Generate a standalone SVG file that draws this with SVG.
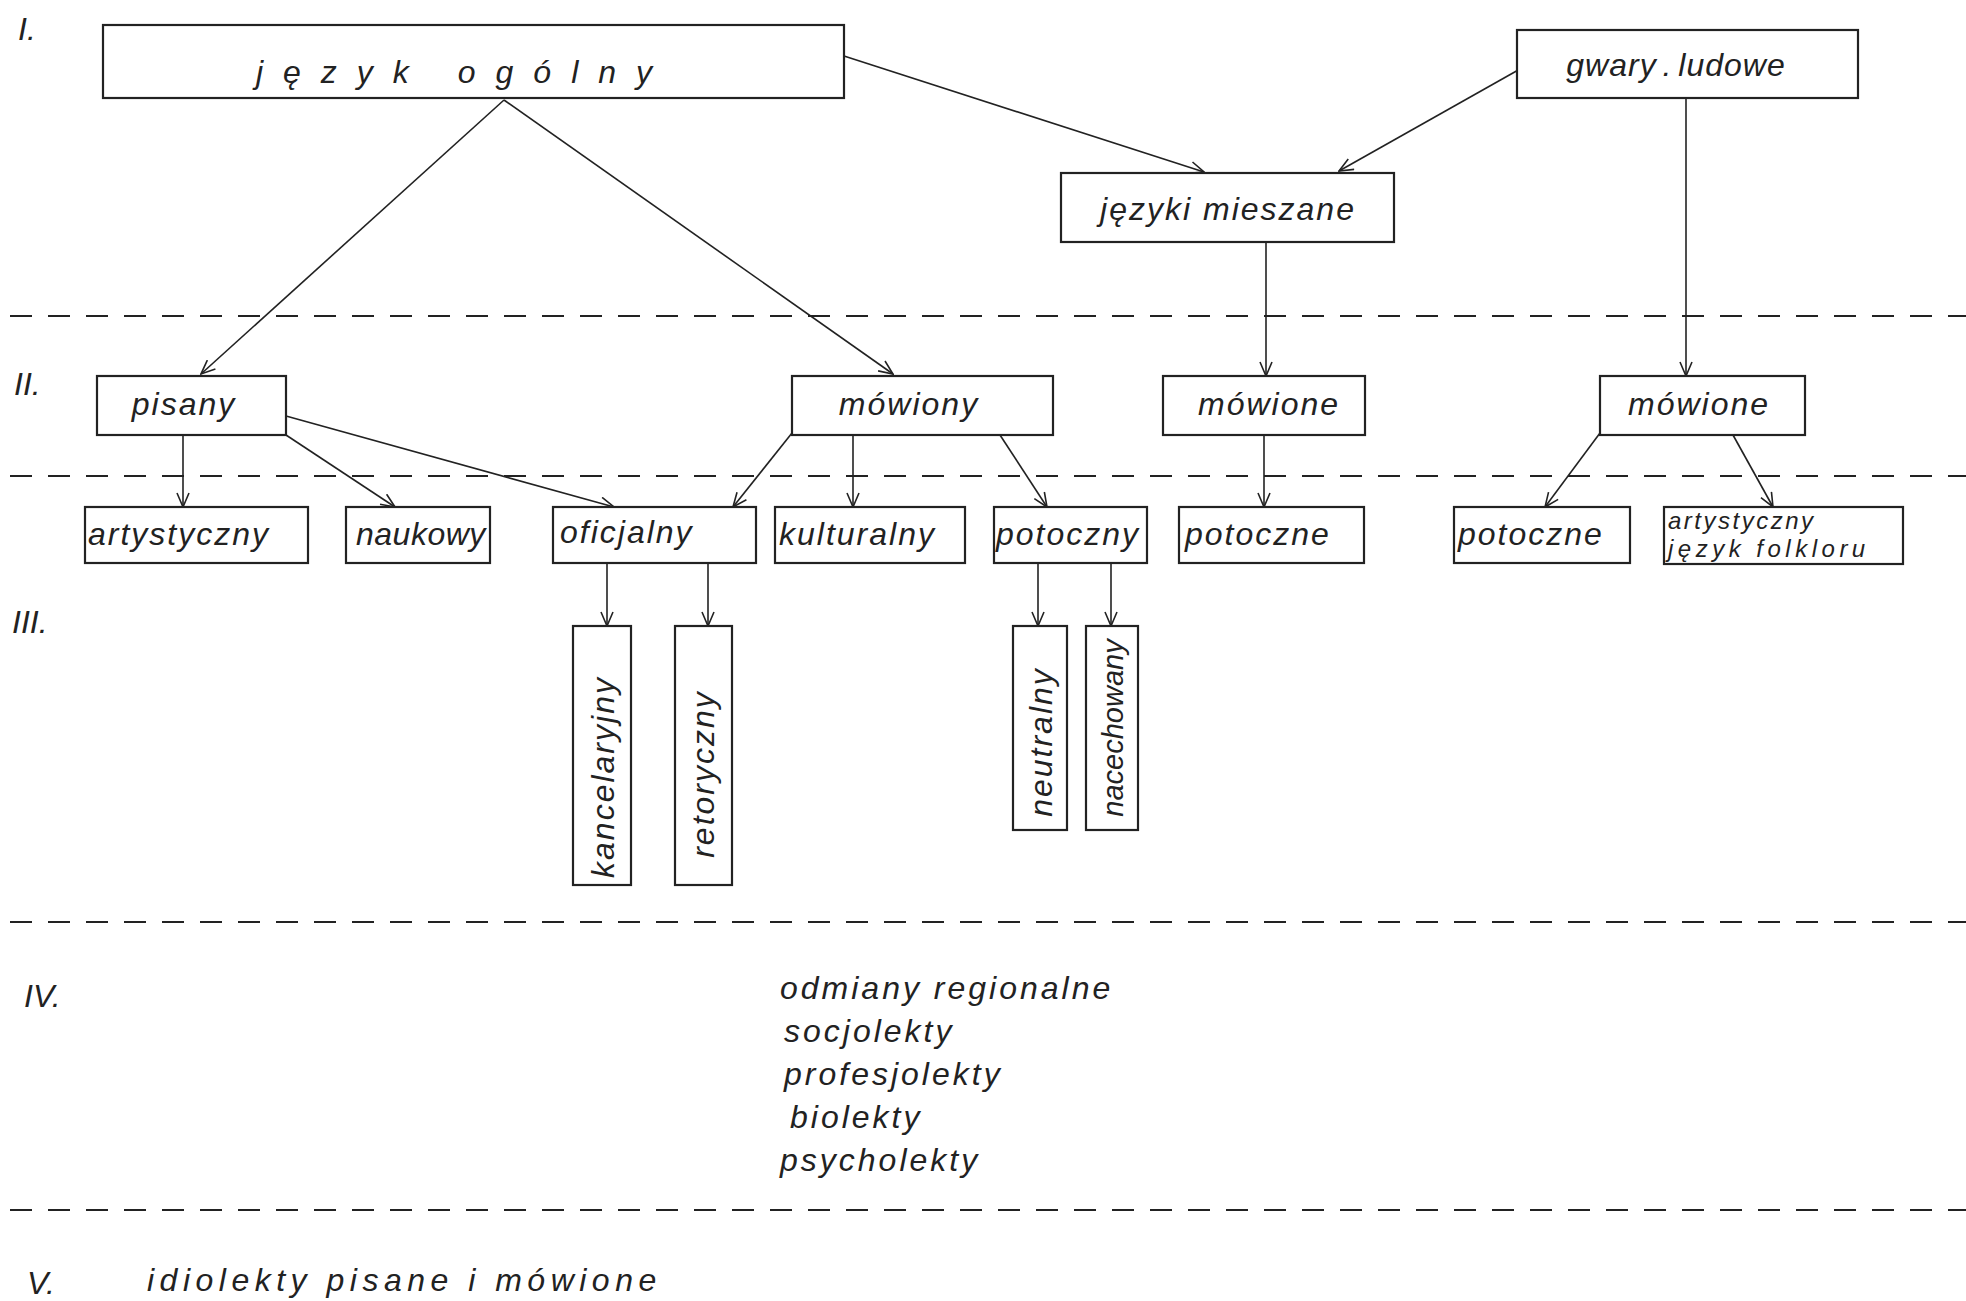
<svg xmlns="http://www.w3.org/2000/svg" width="1966" height="1301" viewBox="0 0 1966 1301">
<defs>
<marker id="arr" markerWidth="16" markerHeight="14" refX="15" refY="7" orient="auto" markerUnits="userSpaceOnUse">
<path d="M1,1 L15,7 L1,13" fill="none" stroke="#222" stroke-width="1.6"/>
</marker>
<style>
.box{fill:#fff;stroke:#222;stroke-width:2.2}
.t{font-family:"Liberation Sans",Arial,sans-serif;font-style:italic;font-size:32px;fill:#222;letter-spacing:2px}
.c{text-anchor:middle}
.lvl{font-family:"Liberation Sans",Arial,sans-serif;font-style:italic;font-size:32px;fill:#222}
.dash{stroke:#222;stroke-width:1.8;stroke-dasharray:22 16;fill:none}
.con line{stroke:#222;stroke-width:1.6;marker-end:url(#arr)}
.iv{letter-spacing:3px}
</style>
</defs>
<rect width="1966" height="1301" fill="#fff"/>

<g id="levels">
<text class="lvl" x="18" y="40">I.</text>
<text class="lvl" x="14" y="395">II.</text>
<text class="lvl" x="12" y="633">III.</text>
<text class="lvl" x="24" y="1007">IV.</text>
<text class="lvl" x="27" y="1294">V.</text>
</g>

<g id="separators">
<line class="dash" x1="10" y1="316" x2="1966" y2="316"/>
<line class="dash" x1="10" y1="476" x2="1966" y2="476"/>
<line class="dash" x1="10" y1="922" x2="1966" y2="922"/>
<line class="dash" x1="10" y1="1210" x2="1966" y2="1210"/>
</g>

<g id="connectors" class="con">
<line x1="504" y1="100" x2="201" y2="374"/>
<line x1="504" y1="100" x2="893" y2="374"/>
<line x1="844" y1="56" x2="1204" y2="172"/>
<line x1="1520" y1="69" x2="1339" y2="171"/>
<line x1="1686" y1="98" x2="1686" y2="376"/>
<line x1="1266" y1="242" x2="1266" y2="376"/>
<line x1="183" y1="435" x2="183" y2="507"/>
<line x1="286" y1="435" x2="395" y2="507"/>
<line x1="286" y1="416" x2="614" y2="507"/>
<line x1="792" y1="433" x2="733" y2="507"/>
<line x1="853" y1="435" x2="853" y2="507"/>
<line x1="1000" y1="435" x2="1047" y2="507"/>
<line x1="1264" y1="435" x2="1264" y2="507"/>
<line x1="1600" y1="433" x2="1545" y2="507"/>
<line x1="1733" y1="435" x2="1773" y2="507"/>
<line x1="607" y1="563" x2="607" y2="626"/>
<line x1="708" y1="563" x2="708" y2="626"/>
<line x1="1038" y1="563" x2="1038" y2="626"/>
<line x1="1111" y1="563" x2="1111" y2="626"/>
</g>

<g id="n-jezyk-ogolny"><rect class="box" x="103" y="25" width="741" height="73"/><text class="t c" x="464" y="83" style="letter-spacing:20px">język  ogólny</text></g>
<g id="n-gwary-ludowe"><rect class="box" x="1517" y="30" width="341" height="68"/><text class="t c" x="1676" y="76" style="letter-spacing:1px;word-spacing:-4px">gwary . ludowe</text></g>
<g id="n-jezyki-mieszane"><rect class="box" x="1061" y="173" width="333" height="69"/><text class="t c" x="1228" y="220">języki mieszane</text></g>

<g id="n-pisany"><rect class="box" x="97" y="376" width="189" height="59"/><text class="t c" x="184" y="415">pisany</text></g>
<g id="n-mowiony"><rect class="box" x="792" y="376" width="261" height="59"/><text class="t c" x="909" y="415">mówiony</text></g>
<g id="n-mowione-1"><rect class="box" x="1163" y="376" width="202" height="59"/><text class="t c" x="1269" y="415">mówione</text></g>
<g id="n-mowione-2"><rect class="box" x="1600" y="376" width="205" height="59"/><text class="t c" x="1699" y="415">mówione</text></g>

<g id="n-artystyczny"><rect class="box" x="85" y="507" width="223" height="56"/><text class="t" x="88" y="545">artystyczny</text></g>
<g id="n-naukowy"><rect class="box" x="346" y="507" width="144" height="56"/><text class="t" x="356" y="545" style="letter-spacing:0.5px">naukowy</text></g>
<g id="n-oficjalny"><rect class="box" x="553" y="507" width="203" height="56"/><text class="t" x="560" y="543">oficjalny</text></g>
<g id="n-kulturalny"><rect class="box" x="775" y="507" width="190" height="56"/><text class="t" x="779" y="545">kulturalny</text></g>
<g id="n-potoczny"><rect class="box" x="994" y="507" width="153" height="56"/><text class="t" x="996" y="545">potoczny</text></g>
<g id="n-potoczne-1"><rect class="box" x="1179" y="507" width="185" height="56"/><text class="t" x="1185" y="545">potoczne</text></g>
<g id="n-potoczne-2"><rect class="box" x="1454" y="507" width="176" height="56"/><text class="t" x="1458" y="545">potoczne</text></g>
<g id="n-artystyczny-folkloru"><rect class="box" x="1664" y="507" width="239" height="57"/><text class="t" x="1668" y="529" style="font-size:24px;letter-spacing:2.5px">artystyczny</text><text class="t" x="1668" y="557" style="font-size:24px;letter-spacing:4.5px">język folkloru</text></g>

<g id="n-kancelaryjny"><rect class="box" x="573" y="626" width="58" height="259"/><text class="t c" transform="translate(614,777) rotate(-90)" x="0" y="0">kancelaryjny</text></g>
<g id="n-retoryczny"><rect class="box" x="675" y="626" width="57" height="259"/><text class="t c" transform="translate(714,774) rotate(-90)" x="0" y="0">retoryczny</text></g>
<g id="n-neutralny"><rect class="box" x="1013" y="626" width="54" height="204"/><text class="t c" transform="translate(1052,742) rotate(-90)" x="0" y="0">neutralny</text></g>
<g id="n-nacechowany"><rect class="box" x="1086" y="626" width="52" height="204"/><text class="t c" transform="translate(1123,728) rotate(-90)" x="0" y="0" style="font-size:29px;letter-spacing:0px">nacechowany</text></g>

<g id="level-iv">
<text class="t iv" x="780" y="999">odmiany regionalne</text>
<text class="t iv" x="784" y="1042">socjolekty</text>
<text class="t iv" x="784" y="1085">profesjolekty</text>
<text class="t iv" x="790" y="1128">biolekty</text>
<text class="t iv" x="780" y="1171">psycholekty</text>
</g>
<g id="level-v">
<text class="t" x="147" y="1291" style="letter-spacing:5.5px">idiolekty pisane i mówione</text>
</g>
</svg>
